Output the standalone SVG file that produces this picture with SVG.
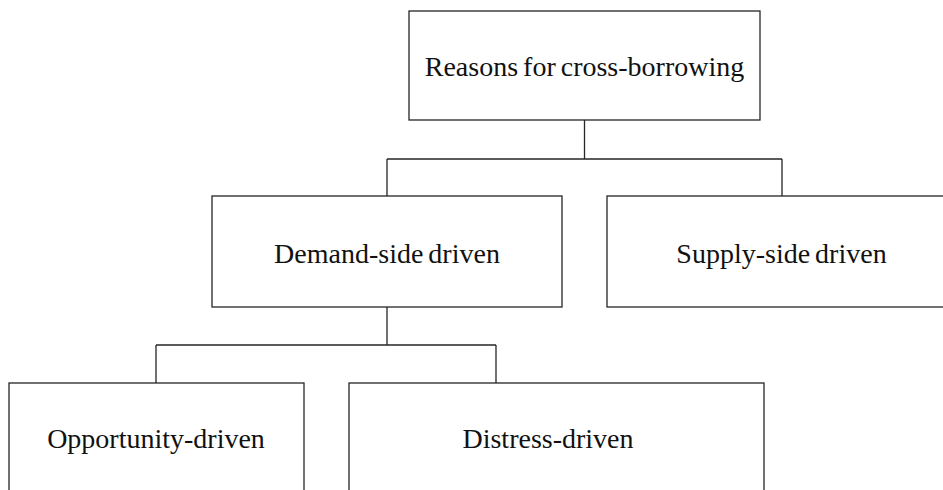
<svg xmlns="http://www.w3.org/2000/svg" width="943" height="490" viewBox="0 0 943 490">
  <style>
    .box { fill: #ffffff; stroke: #262626; stroke-width: 1.3; }
    .link { fill: none; stroke: #262626; stroke-width: 1.3; }
    .label { font-family: "Liberation Serif", "Times New Roman", serif; font-size: 28px; word-spacing: -2px; fill: #111111; text-anchor: middle; }
  </style>
  <rect width="943" height="490" fill="#ffffff"/>

  <!-- tree connectors -->
  <g id="connectors">
    <path class="link" d="M584.5,120 V159 M387,159 H782 M387,159 V196 M782,159 V196"/>
    <path class="link" d="M387,307 V345 M156,345 H496 M156,345 V383 M496,345 V383"/>
  </g>

  <g id="node-root">
    <rect class="box" x="409" y="11" width="351" height="109"/>
    <text class="label" x="584.5" y="76">Reasons for cross-borrowing</text>
  </g>

  <g id="node-demand">
    <rect class="box" x="212" y="196" width="350" height="111"/>
    <text class="label" x="387" y="263">Demand-side driven</text>
  </g>

  <g id="node-supply">
    <rect class="box" x="607" y="196" width="350" height="111"/>
    <text class="label" x="781.5" y="263">Supply-side driven</text>
  </g>

  <g id="node-opportunity">
    <rect class="box" x="9" y="383" width="295" height="120"/>
    <text class="label" x="156" y="448">Opportunity-driven</text>
  </g>

  <g id="node-distress">
    <rect class="box" x="349" y="383" width="415" height="120"/>
    <text class="label" x="548" y="448">Distress-driven</text>
  </g>
</svg>
